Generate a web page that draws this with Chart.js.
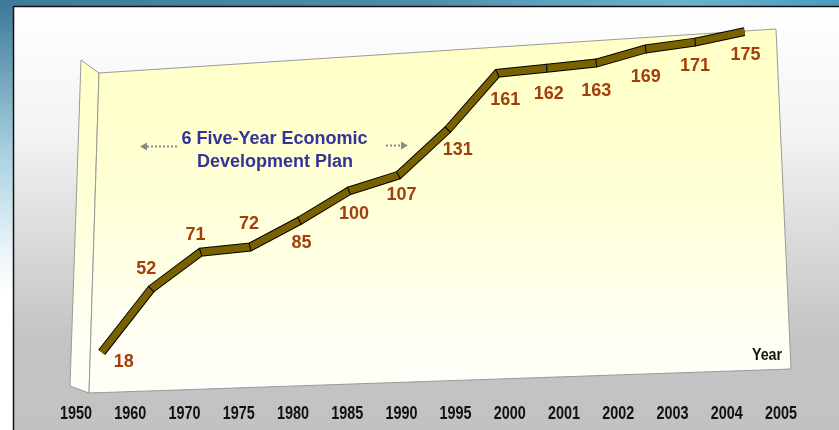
<!DOCTYPE html>
<html><head><meta charset="utf-8">
<script src="https://cdn.jsdelivr.net/npm/chart.js@4/dist/chart.umd.min.js"></script>
<style>html,body{margin:0;padding:0;background:#fff;overflow:hidden}</style>
</head><body>
<canvas id="c" width="839" height="430"></canvas>
<script>
// ---- data ----
const years = ['1950','1960','1970','1975','1980','1985','1990','1995','2000','2001','2002','2003','2004','2005'];
const values = [18, 52, 71, 72, 85, 100, 107, 131, 161, 162, 163, 169, 171, 175];
const planText = ['6 Five-Year Economic', 'Development Plan'];
const axisTitle = 'Year';
// label placement (dx, dy) relative to each point
const labelOffsets = [[22,9],[-5,-21],[-5,-18],[-1,-24],[2,21],[5,22],[3,19],[10,19],[8,26],[2,25],[0,27],[0,27],[0,23],[1,22]];

const SHEAR = 0.069;
const SANS = "'Liberation Sans',Arial,sans-serif";

const points = values.map((v, i) => ({x: i, y: v}));

function firstX(chart){ return chart.scales.xp.getPixelForValue(0); }
function narrowText(ctx, text, x, y, sx){
  ctx.save(); ctx.translate(x, y); ctx.scale(sx, 1); ctx.fillText(text, 0, 0); ctx.restore();
}

const deco = {
  id: 'deco',
  beforeDraw(chart){
    const ctx = chart.ctx, W = chart.width, H = chart.height;
    ctx.save();
    let g = ctx.createLinearGradient(0,0,0,H);
    g.addColorStop(0,'#3a7896'); g.addColorStop(0.35,'#a8d0e0'); g.addColorStop(0.6,'#eef7fa'); g.addColorStop(0.68,'#ffffff'); g.addColorStop(1,'#ffffff');
    ctx.fillStyle = g; ctx.fillRect(0,0,W,H);
    let g2 = ctx.createLinearGradient(0,0,W,0);
    g2.addColorStop(0,'#3e7b9a'); g2.addColorStop(0.5,'#4f8cac'); g2.addColorStop(0.65,'#5f9fbf'); g2.addColorStop(0.82,'#6ab3cd'); g2.addColorStop(1,'#4a9bc0');
    ctx.fillStyle = g2; ctx.fillRect(0,0,W,7);
    let g3 = ctx.createLinearGradient(0,7,0,H);
    g3.addColorStop(0,'#ffffff'); g3.addColorStop(0.3,'#f3f3f3'); g3.addColorStop(0.78,'#c4c4c4'); g3.addColorStop(1,'#c2c2c2');
    ctx.fillStyle = g3; ctx.fillRect(14,7,W-14,H-7);
    ctx.strokeStyle = '#111'; ctx.lineWidth = 1.5;
    ctx.beginPath(); ctx.moveTo(13.5,H); ctx.lineTo(13.5,6.5); ctx.lineTo(W,6.5); ctx.stroke();
    // wall
    let gw = ctx.createLinearGradient(0,29,0,393);
    gw.addColorStop(0,'#ffffc4'); gw.addColorStop(0.45,'#ffffd6'); gw.addColorStop(0.85,'#fffff4'); gw.addColorStop(1,'#fffffa');
    ctx.fillStyle = gw; ctx.strokeStyle = '#9a9a9a'; ctx.lineWidth = 1;
    ctx.beginPath(); ctx.moveTo(81,60); ctx.lineTo(99,73); ctx.lineTo(89,393); ctx.lineTo(70,386); ctx.closePath(); ctx.fill(); ctx.stroke();
    ctx.beginPath(); ctx.moveTo(99,73); ctx.lineTo(776,29); ctx.lineTo(791,369); ctx.lineTo(89,393); ctx.closePath(); ctx.fill(); ctx.stroke();
    ctx.restore();
  }
};

const shear = {
  id: 'shear',
  beforeDatasetsDraw(chart){
    const ctx = chart.ctx, x0 = firstX(chart);
    ctx.save();
    ctx.transform(1, -SHEAR, 0, 1, 0, SHEAR * x0);
  },
  afterDatasetsDraw(chart){
    const ctx = chart.ctx;
    // joint separators
    const pts = chart.getDatasetMeta(0).data;
    ctx.strokeStyle = '#000'; ctx.lineWidth = 1;
    for (let i = 1; i < pts.length - 1; i++){
      const a = pts[i-1], b = pts[i], c = pts[i+1];
      let d1x = b.x - a.x, d1y = b.y - a.y, l1 = Math.hypot(d1x,d1y);
      let d2x = c.x - b.x, d2y = c.y - b.y, l2 = Math.hypot(d2x,d2y);
      let tx = d1x/l1 + d2x/l2, ty = d1y/l1 + d2y/l2, lt = Math.hypot(tx,ty);
      let nx = -ty/lt, ny = tx/lt;
      ctx.beginPath(); ctx.moveTo(b.x + nx*4.5, b.y + ny*4.5); ctx.lineTo(b.x - nx*4.5, b.y - ny*4.5); ctx.stroke();
    }
    ctx.restore();
  }
};

const labels = {
  id: 'labels',
  afterDatasetsDraw(chart){
    const ctx = chart.ctx, x0 = firstX(chart);
    const pts = chart.getDatasetMeta(0).data;
    ctx.save();
    ctx.textAlign = 'center'; ctx.textBaseline = 'middle';
    ctx.font = 'bold 18px ' + SANS; ctx.fillStyle = '#a33f0d';
    pts.forEach((p, i) => {
      const sy = p.y - SHEAR * (p.x - x0);
      ctx.fillText(String(values[i]), p.x + labelOffsets[i][0], sy + labelOffsets[i][1] + 1);
    });
    // plan annotation
    ctx.font = 'bold 18px ' + SANS; ctx.fillStyle = '#333399';
    ctx.fillText(planText[0], 274.5, 139);
    ctx.fillText(planText[1], 275, 162);
    // arrows
    ctx.strokeStyle = '#8a8a8a'; ctx.fillStyle = '#8a8a8a'; ctx.lineWidth = 2; ctx.setLineDash([2,2]);
    ctx.beginPath(); ctx.moveTo(177,146.5); ctx.lineTo(146,146.5); ctx.stroke();
    ctx.beginPath(); ctx.moveTo(386,145.5); ctx.lineTo(401,145.5); ctx.stroke();
    ctx.setLineDash([]);
    ctx.beginPath(); ctx.moveTo(140,146.5); ctx.lineTo(147,142.5); ctx.lineTo(147,150.5); ctx.closePath(); ctx.fill();
    ctx.beginPath(); ctx.moveTo(408,145.5); ctx.lineTo(401,141.5); ctx.lineTo(401,149.5); ctx.closePath(); ctx.fill();
    // axis title
    ctx.textBaseline = 'alphabetic';
    ctx.font = 'bold 17px ' + SANS; ctx.fillStyle = '#111';
    narrowText(ctx, axisTitle, 767, 360, 0.84);
    // x tick labels (condensed, from the category axis)
    const xs = chart.scales.x;
    ctx.font = 'bold 18px ' + SANS;
    xs.ticks.forEach((t, i) => {
      narrowText(ctx, xs.getLabelForValue(t.value), xs.getPixelForTick(i), 419, 0.8);
    });
    ctx.restore();
  }
};

new Chart(document.getElementById('c'), {
  type: 'line',
  data: {
    labels: years,
    datasets: [
      { data: points, xAxisID: 'xp', yAxisID: 'y', borderColor: '#7a6100', borderWidth: 7, pointRadius: 0, tension: 0, borderCapStyle: 'butt', borderJoinStyle: 'miter', clip: false },
      { data: points, xAxisID: 'xp', yAxisID: 'y', borderColor: '#000', borderWidth: 9, pointRadius: 0, tension: 0, borderCapStyle: 'butt', borderJoinStyle: 'miter', clip: false }
    ]
  },
  options: {
    responsive: false, animation: false, devicePixelRatio: 1,
    layout: { padding: { top: 32, left: 49, right: 31, bottom: 0 } },
    plugins: { legend: { display: false }, tooltip: { enabled: false } },
    scales: {
      x: {
        type: 'category', position: 'bottom', offset: true,
        grid: { display: false, drawTicks: false }, border: { display: false },
        ticks: { display: false, autoSkip: false },
        afterFit(s){ s.height = 46; }
      },
      xp: { type: 'linear', display: false, min: -1.066, max: 14.283 },
      y: { display: false, min: 0, max: 200 }
    }
  },
  plugins: [deco, shear, labels]
});
</script>
</body></html>
